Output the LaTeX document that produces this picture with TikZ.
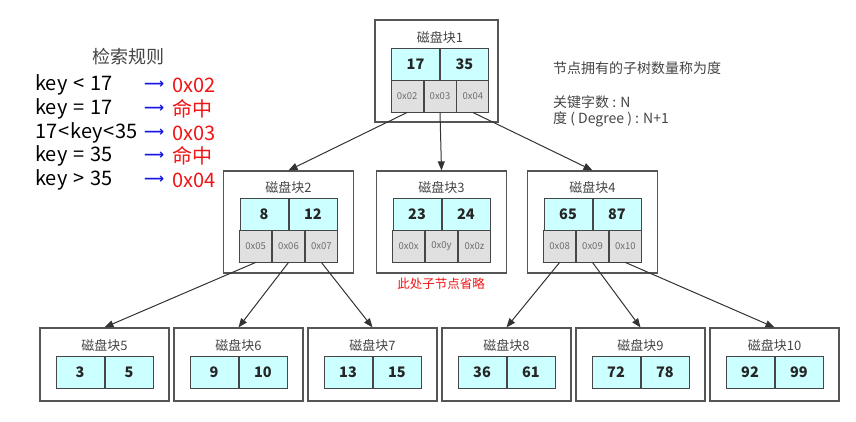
\documentclass[tikz,border=0pt]{standalone}
\usepackage{fontspec}
\setmainfont{Noto Sans CJK SC}
\newfontfamily\symfont{DejaVu Sans}
\definecolor{keycyan}{RGB}{204, 255, 255}
\definecolor{ptrgray}{RGB}{224, 224, 224}
\definecolor{edgegray}{RGB}{70, 70, 70}
\definecolor{boxgray}{RGB}{85, 85, 85}
\definecolor{textgray}{RGB}{68, 68, 68}
\definecolor{ptrtext}{RGB}{110, 110, 110}
\definecolor{hitred}{RGB}{240, 20, 20}
\definecolor{arrowblue}{RGB}{20, 20, 230}
\usetikzlibrary{arrows.meta, positioning}

\begin{document}
\begin{tikzpicture}[
  x=1pt, y=-1pt,
  blk/.style={draw=boxgray, line width=1.2pt, minimum width=130pt, minimum height=102pt, inner sep=0pt},
  leaf/.style={blk, minimum width=129pt, minimum height=73pt},
  blktitle/.style={text=textgray, font=\fontsize{13}{13}\selectfont, inner sep=0pt},
  keycell/.style={draw=edgegray, line width=0.9pt, fill=keycyan, minimum width=48pt, minimum height=32pt, inner sep=0pt, text=black!85, font=\bfseries\fontsize{14.5}{15}\selectfont},
  ptrcell/.style={draw=edgegray, line width=0.9pt, fill=ptrgray, minimum width=32pt, minimum height=32pt, inner sep=0pt, text=ptrtext, font=\fontsize{9.5}{10}\selectfont},
  arr/.style={draw=black!80, line width=1pt, -{Triangle[length=9pt,width=7pt]}},
  rule/.style={anchor=west, inner sep=0pt, font=\fontsize{20}{20}\selectfont},
  note/.style={anchor=west, inner sep=0pt, text=textgray, font=\fontsize{14}{14}\selectfont}
]
  \useasboundingbox (0,0) rectangle (856,421);

  % root block
  \node[blk, minimum width=123pt] (b1) at (436.5,71) {};
  \node[blktitle] at (440,38) {磁盘块1};
  \node[keycell, anchor=east] (b1-k1) at (440,64) {17};
  \node[keycell, anchor=west] (b1-k2) at (440,64) {35};
  \node[ptrcell] (b1-p2) at (440,96) {0x03};
  \node[ptrcell, left=0pt of b1-p2] (b1-p1) {0x02};
  \node[ptrcell, right=0pt of b1-p2] (b1-p3) {0x04};

  % second level
  \foreach \cx/\n/\ka/\kb/\pa/\pb/\pc in {288.5/2/8/12/0x05/0x06/0x07, 441.5/3/23/24/0x0x/0x0y/0x0z, 592.5/4/65/87/0x08/0x09/0x10}{
    \node[blk] (b\n) at (\cx,222) {};
    \node[blktitle] at (\cx,188) {磁盘块\n};
    \node[keycell, anchor=east] (b\n-k1) at (\cx,214) {\ka};
    \node[keycell, anchor=west] (b\n-k2) at (\cx,214) {\kb};
    \node[ptrcell] (b\n-p2) at (\cx,246) {\pb};
    \node[ptrcell, left=0pt of b\n-p2] (b\n-p1) {\pa};
    \node[ptrcell, right=0pt of b\n-p2] (b\n-p3) {\pc};
  }
  \node[text=hitred, inner sep=0pt, font=\fontsize{12.5}{13}\selectfont] (skip) at (441,284) {此处子节点省略};

  % leaves
  \foreach \cx/\n/\ka/\kb in {104.5/5/3/5, 238.5/6/9/10, 372.5/7/13/15, 506.5/8/36/61, 640.5/9/72/78, 774.5/10/92/99}{
    \node[leaf] (b\n) at (\cx,364.5) {};
    \node[blktitle] at (\cx,345) {磁盘块\n};
    \node[keycell, anchor=east] (b\n-k1) at (\cx,372) {\ka};
    \node[keycell, anchor=west] (b\n-k2) at (\cx,372) {\kb};
  }

  % pointers
  \draw[arr] (b1-p1.south) -- (b2.north);
  \draw[arr] (b1-p2.south) -- (b3.north);
  \draw[arr] (b1-p3.south) -- (b4.north);
  \draw[arr] (b2-p1.south) -- (b5.north);
  \draw[arr] (b2-p2.south) -- (b6.north);
  \draw[arr] (b2-p3.south) -- (b7.north);
  \draw[arr] (b4-p1.south) -- (b8.north);
  \draw[arr] (b4-p2.south) -- (b9.north);
  \draw[arr] (b4-p3.south) -- (b10.north);

  % search rules
  \node[text=textgray, inner sep=0pt, font=\fontsize{18}{18}\selectfont] (rules) at (128,57) {检索规则};
  \foreach \y/\cond/\res in {85/key\hspace{.3em}<\hspace{.3em}17/0x02, 109/key\hspace{.3em}=\hspace{.3em}17/命中, 133/17\hspace{.05em}<\hspace{.05em}key\hspace{.05em}<\hspace{.05em}35/0x03, 156/key\hspace{.3em}=\hspace{.3em}35/命中, 180/key\hspace{.3em}>\hspace{.3em}35/0x04}{
    \node[rule, text=black] at (35,\y) {\cond};
    \node[rule, text=arrowblue, font=\symfont\bfseries\fontsize{14}{14}\selectfont] at (144,\y) {⟶};
    \node[rule, text=hitred] at (172,\y) {\res};
  }

  % degree note
  \node[note] (deg) at (553,68) {节点拥有的子树数量称为度};
  \node[note] (nkey) at (553,102) {关键字数 : N};
  \node[note] (ndeg) at (553,119) {度 ( Degree ) : N+1};
\end{tikzpicture}
\end{document}
